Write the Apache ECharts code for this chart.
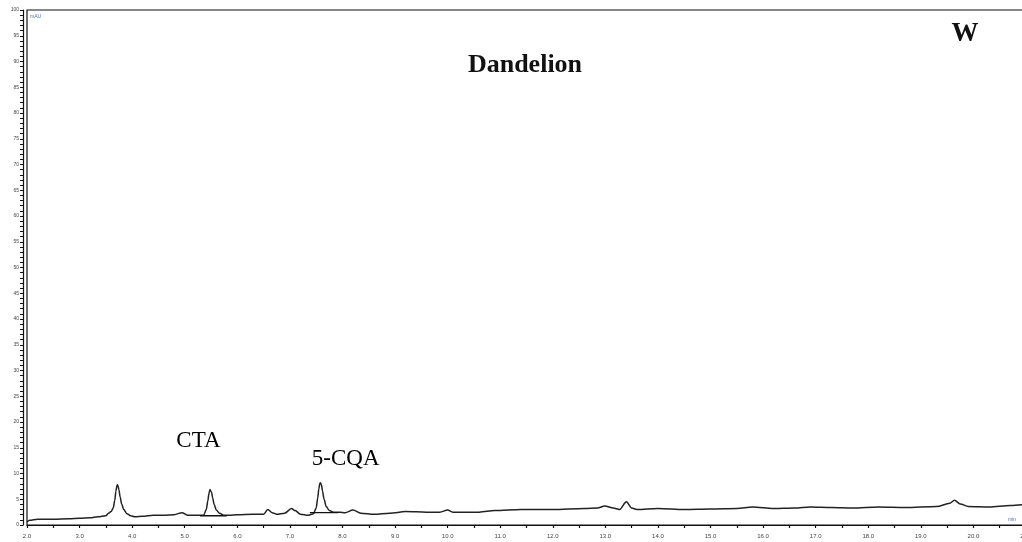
<!DOCTYPE html>
<html>
<head>
<meta charset="utf-8">
<script src="https://cdn.jsdelivr.net/npm/echarts@6/dist/echarts.min.js"></script>
<style>
html,body{margin:0;padding:0;background:#fff;}
#c{width:1022px;height:542px;}
</style>
</head>
<body>
<div id="c"></div>
<script>
// Retention time (min)
const times = [2.00,2.05,2.2,2.5,2.8,3.0,3.2,3.35,3.5,3.55,3.60,3.64,3.67,3.69,3.71,3.72,3.73,3.75,3.77,3.80,3.84,3.90,3.97,4.05,4.2,4.4,4.6,4.8,4.95,5.05,5.25,5.36,5.41,5.44,5.46,5.48,5.49,5.51,5.53,5.56,5.60,5.66,5.74,5.85,6.0,6.3,6.5,6.58,6.66,6.75,6.9,7.03,7.1,7.2,7.35,7.45,7.50,7.53,7.55,7.57,7.58,7.60,7.62,7.65,7.69,7.75,7.83,7.95,8.05,8.2,8.35,8.6,8.9,9.2,9.6,9.85,10.0,10.1,10.6,10.9,11.4,12.0,12.6,12.85,12.99,13.15,13.27,13.4,13.5,13.6,14.0,14.5,15.0,15.5,15.8,16.2,16.6,16.9,17.3,17.7,18.2,18.7,19.3,19.55,19.64,19.75,19.9,20.3,20.7,21.0];
// Absorbance (mAU)
const signal = [0.6,0.9,1.1,1.1,1.2,1.3,1.4,1.6,1.8,2.3,2.6,3.3,4.8,6.5,7.6,7.8,7.6,6.8,5.5,4.1,3.0,2.2,1.8,1.6,1.7,1.9,1.9,2.0,2.4,1.9,1.9,1.9,3.0,4.7,6.1,6.9,6.9,6.4,5.3,4.0,2.9,2.3,1.9,1.9,2.0,2.1,2.1,3.0,2.4,2.1,2.3,3.2,2.8,2.1,1.9,2.2,3.3,5.3,7.0,8.1,8.2,7.8,6.6,5.0,3.6,2.8,2.5,2.5,2.4,2.9,2.3,2.1,2.3,2.6,2.5,2.5,2.9,2.5,2.5,2.8,3.0,3.0,3.2,3.3,3.7,3.3,3.0,4.5,3.3,3.0,3.2,3.0,3.1,3.2,3.5,3.2,3.3,3.5,3.4,3.3,3.5,3.4,3.6,4.2,4.8,4.1,3.6,3.5,3.8,4.0];
// Integration baselines [start, end] and level
const ctaBaseT = [5.29, 5.80];
const ctaBaseV = [1.8, 1.8];
const cqaBaseT = [7.38, 7.92];
const cqaBaseV = [2.4, 2.4];
// Peak annotations
const peakNames = ['CTA', '5-CQA'];
const peakLabelT = [5.26, 8.06];
const peakLabelV = [13.9, 10.5];

const zip = (a, b) => a.map((t, i) => [t, b[i]]);

const chart = echarts.init(document.getElementById('c'), null, {renderer: 'canvas'});
const serif = '"Liberation Serif","Times New Roman",serif';
chart.setOption({
  animation: false,
  backgroundColor: '#fff',
  grid: {left: 27, right: -4, top: 10, bottom: 17, show: true, borderColor: '#111', borderWidth: 1.2,
         containLabel: false, outerBoundsMode: 'none'},
  title: [
    {text: 'Dandelion', left: 520, top: 47, textAlign: 'center',
     textStyle: {fontFamily: serif, fontWeight: 'bold', fontSize: 26, color: '#111'}},
    {text: 'W', left: 960, top: 16, textAlign: 'center',
     textStyle: {fontFamily: serif, fontWeight: 'bold', fontSize: 27, color: '#111'}}
  ],
  xAxis: {
    type: 'value', min: 2, max: 21, interval: 1, offset: 4,
    axisLine: {show: true, lineStyle: {color: '#111', width: 1.2}},
    axisTick: {show: true, length: 3, lineStyle: {color: '#111', width: 1.2}},
    minorTick: {show: true, splitNumber: 2, length: 3, lineStyle: {color: '#111', width: 1.2}},
    splitLine: {show: false},
    axisLabel: {fontSize: 6, color: '#444', margin: 4, formatter: v => v.toFixed(1)}
  },
  yAxis: {
    type: 'value', min: 0, max: 100, interval: 5, offset: 4,
    axisLine: {show: true, lineStyle: {color: '#111', width: 1.2}},
    axisTick: {show: true, length: 3, lineStyle: {color: '#111', width: 1}},
    minorTick: {show: true, splitNumber: 5, length: 3, lineStyle: {color: '#111', width: 1}},
    splitLine: {show: false},
    axisLabel: {fontSize: 5, color: '#444', margin: 4, formatter: v => String(v)}
  },
  graphic: [
    {type: 'text', left: 30, top: 14, style: {text: 'mAU', fontSize: 5, fill: '#4a72c0'}},
    {type: 'text', left: 1008, top: 517, style: {text: 'min', fontSize: 5, fill: '#4a72c0'}}
  ],
  series: [
    {type: 'line', data: zip(times, signal), showSymbol: false, smooth: 0.3, smoothMonotone: 'x',
     lineStyle: {color: '#222', width: 1.5}, z: 3},
    {type: 'line', data: zip(ctaBaseT, ctaBaseV), showSymbol: false,
     lineStyle: {color: '#111', width: 1.3}},
    {type: 'line', data: zip(cqaBaseT, cqaBaseV), showSymbol: false,
     lineStyle: {color: '#111', width: 1.3}},
    {type: 'scatter', data: zip(peakLabelT, peakLabelV).map((p, i) => ({value: p, name: peakNames[i]})),
     symbolSize: 1, itemStyle: {opacity: 0}, silent: true,
     label: {show: true, position: 'top', distance: 0, formatter: p => p.name,
       fontFamily: serif, fontSize: 23, color: '#000', opacity: 1, textBorderWidth: 0}}
  ]
});
</script>
</body>
</html>
